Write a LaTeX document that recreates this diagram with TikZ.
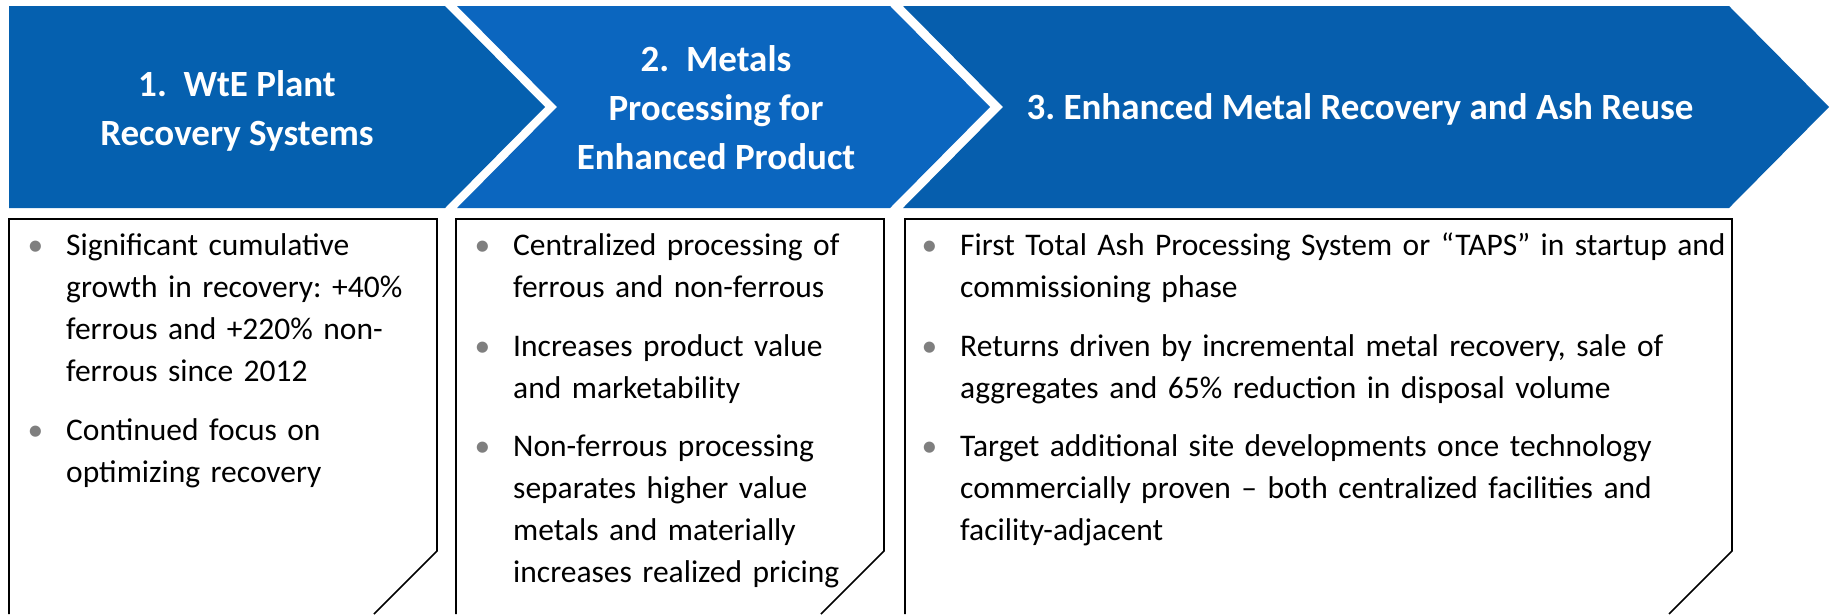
\documentclass[tikz,border=0pt]{standalone}
\usepackage{fontspec}
\setmainfont{Carlito}
\frenchspacing
\definecolor{chevA}{HTML}{0560AF}
\definecolor{chevB}{HTML}{0B66BF}
\definecolor{chevC}{HTML}{065EAD}
\definecolor{bulgray}{HTML}{7F7F7F}
\newcommand{\bul}{\llap{\textcolor{bulgray}{\textbullet}\hspace{23pt}}}
\begin{document}
\begin{tikzpicture}[x=1pt,y=-1pt,line join=miter]
	\tikzset{ttl/.style={text=white,align=center,inner sep=0pt,font=\fontsize{37}{49}\selectfont\bfseries},
		itm/.style={anchor=base west,align=left,inner sep=0pt,text width=#1,font=\fontsize{31.5}{42.3}\selectfont},
		box/.style={draw=black,line width=1.6pt}
	}
	\useasboundingbox (0,0) rectangle (1830,614);
	% chevrons
	\fill[chevA] (9,6)--(445,6)--(545,107)--(445,208)--(9,208)--cycle;
	\fill[chevB] (457,6)--(890,6)--(990,107)--(890,208)--(457,208)--(557,107)--cycle;
	\fill[chevC] (903,6)--(1729,6)--(1829,107)--(1729,208)--(903,208)--(1003,107)--cycle;
	\node[ttl] (t1) at (237,111) {1.\ \ WtE Plant\\Recovery Systems};
	\node[ttl] (t2) at (716,108) {2.\ \ Metals\\Processing for\\Enhanced Product};
	\node[ttl] (t3) at (1360,109) {3. Enhanced Metal Recovery and Ash Reuse};
	% boxes
	\draw[box] (9,614)--(9,219)--(437,219)--(437,551)--(374,614);
	\draw[box] (456,614)--(456,219)--(884,219)--(884,551)--(821,614);
	\draw[box] (905,614)--(905,219)--(1732,219)--(1732,551)--(1669,614);
	\node[itm=360pt] (a1) at (66,255) {\bul Significant cumulative\\growth in recovery: +40\%\\ferrous and +220\% non-\\ferrous since 2012};
	\node[itm=360pt] (a2) at (66,440) {\bul Continued focus on\\optimizing recovery};
	\node[itm=360pt] (b1) at (513,255) {\bul Centralized processing of\\ferrous and non-ferrous};
	\node[itm=360pt] (b2) at (513,356) {\bul Increases product value\\and marketability};
	\node[itm=360pt] (b3) at (513,456) {\bul Non-ferrous processing\\separates higher value\\metals and materially\\increases realized pricing};
	\node[itm=800pt] (c1) at (960,255) {\bul First Total Ash Processing System or “TAPS” in startup and\\commissioning phase};
	\node[itm=800pt] (c2) at (960,356) {\bul Returns driven by incremental metal recovery, sale of\\aggregates and 65\% reduction in disposal volume};
	\node[itm=800pt] (c3) at (960,456) {\bul Target additional site developments once technology\\commercially proven – both centralized facilities and\\facility-adjacent};
\end{tikzpicture}
\end{document}
